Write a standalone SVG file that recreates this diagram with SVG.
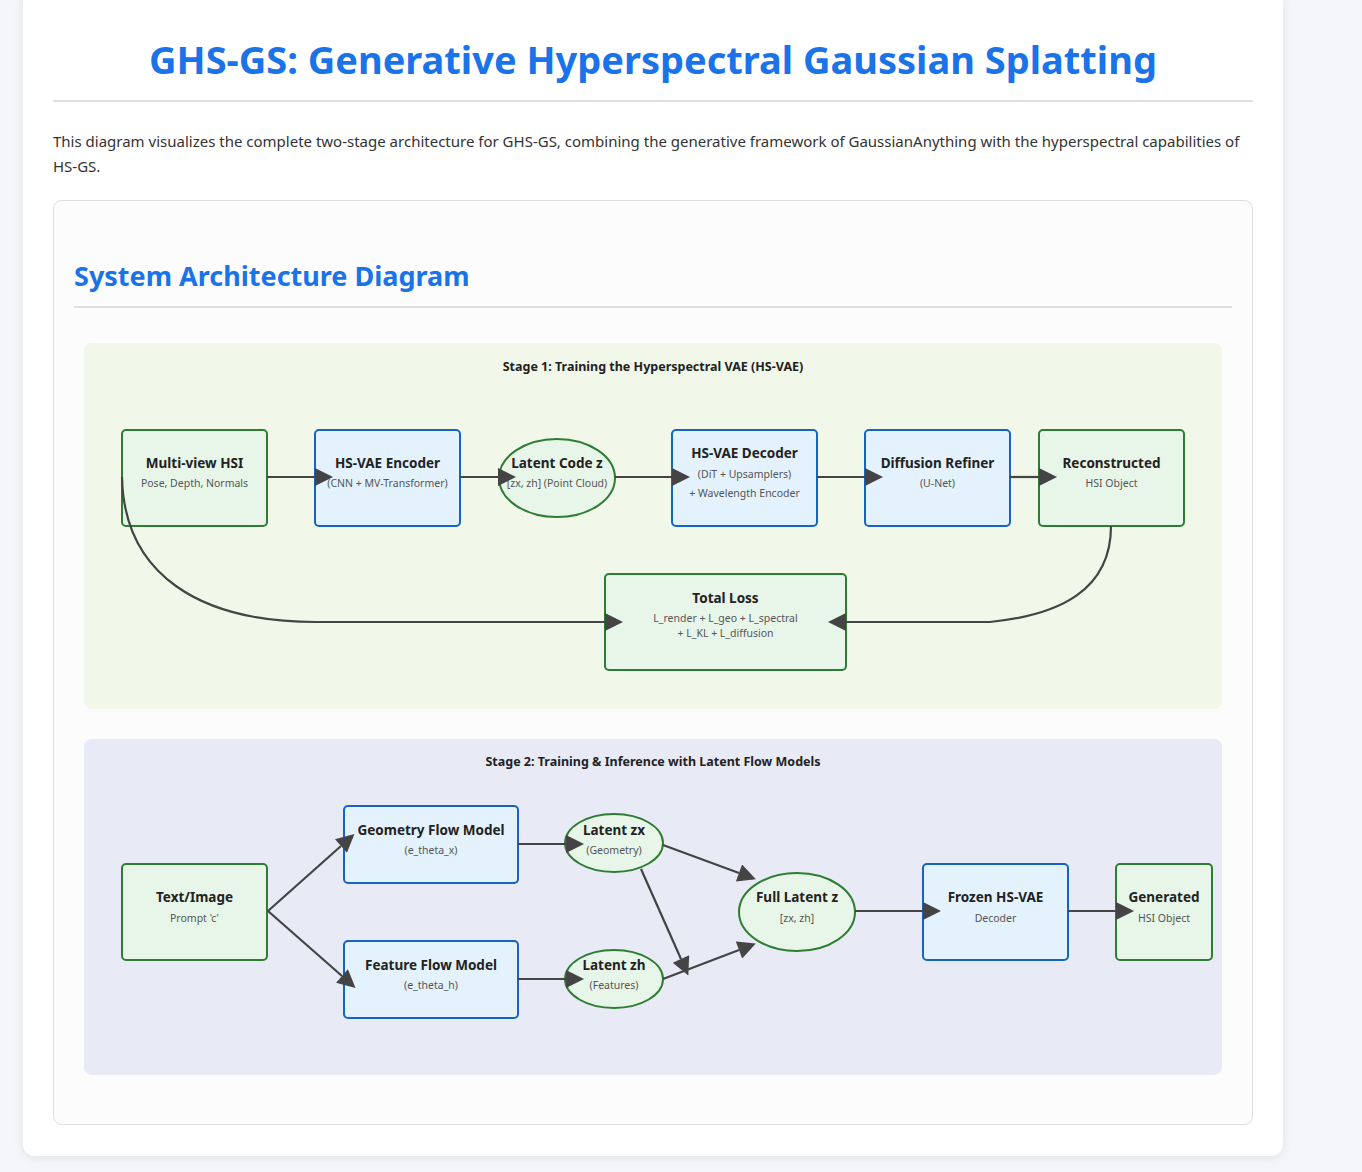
<svg xmlns="http://www.w3.org/2000/svg" width="1362" height="1172" viewBox="0 0 1362 1172">
<defs>
<filter id="sh" x="-5%" y="-5%" width="110%" height="110%"><feDropShadow dx="0" dy="2" stdDeviation="5" flood-color="#000" flood-opacity="0.08"/></filter>
<marker id="arr" viewBox="0 0 10 10" refX="0" refY="5" markerUnits="userSpaceOnUse" markerWidth="25" markerHeight="18" orient="auto"><path d="M0,0 L10,5 L0,10 z" fill="#444"/></marker>
<style>
.t{font-family:"Noto Sans","Open Sans",sans-serif;}
.h1{font-size:38px;font-weight:700;fill:#1a73e8;}
.h2{font-size:27px;font-weight:700;fill:#1a73e8;}
.p{font-size:15px;fill:#333;}
.st{font-size:12.5px;font-weight:700;fill:#222;}
.nt{font-size:13.5px;font-weight:700;fill:#222;}
.ns{font-size:10.5px;fill:#555;}
.g{fill:#e8f5e9;stroke:#2e7d32;stroke-width:2;}
.b{fill:#e3f2fd;stroke:#1565c0;stroke-width:2;}
.ea{fill:none;stroke:#444;stroke-width:2.2;marker-end:url(#arr);}
</style>
</defs>
<rect x="0" y="0" width="1362" height="1172" fill="#f4f6f9"/>
<rect x="23" y="-12" width="1260" height="1168" rx="12" fill="#fff" filter="url(#sh)"/>
<text class="t h1" x="653" y="74" text-anchor="middle">GHS-GS: Generative Hyperspectral Gaussian Splatting</text>
<rect x="53" y="100" width="1200" height="2" fill="#e0e0e0"/>
<text class="t p" x="53" y="147">This diagram visualizes the complete two-stage architecture for GHS-GS, combining the generative framework of GaussianAnything with the hyperspectral capabilities of</text>
<text class="t p" x="53" y="172">HS-GS.</text>
<rect x="53.5" y="200.5" width="1199" height="924" rx="8" fill="#fcfcfc" stroke="#ddd"/>
<text class="t h2" x="74" y="286">System Architecture Diagram</text>
<rect x="74" y="306" width="1158" height="2" fill="#e0e0e0"/>

<rect x="84" y="343" width="1138" height="366" rx="8" fill="#f1f8e9"/>
<text class="t st" x="653" y="371" text-anchor="middle">Stage 1: Training the Hyperspectral VAE (HS-VAE)</text>
<rect x="84" y="739" width="1138" height="336" rx="8" fill="#e8eaf6"/>
<text class="t st" x="653" y="766" text-anchor="middle">Stage 2: Training &amp; Inference with Latent Flow Models</text>

<g id="n-multiview"><rect class="g" x="122" y="430" width="145" height="96" rx="4"/><text class="t nt" x="194.5" y="468" text-anchor="middle">Multi-view HSI</text><text class="t ns" x="194.5" y="487" text-anchor="middle">Pose, Depth, Normals</text></g>
<g id="n-encoder"><rect class="b" x="315" y="430" width="145" height="96" rx="4"/><text class="t nt" x="387.5" y="468" text-anchor="middle">HS-VAE Encoder</text><text class="t ns" x="387.5" y="487" text-anchor="middle">(CNN + MV-Transformer)</text></g>
<g id="n-latent"><ellipse class="g" cx="557" cy="478" rx="58" ry="39"/><text class="t nt" x="557" y="468" text-anchor="middle">Latent Code z</text><text class="t ns" x="557" y="487" text-anchor="middle">[zx, zh] (Point Cloud)</text></g>
<g id="n-decoder"><rect class="b" x="672" y="430" width="145" height="96" rx="4"/><text class="t nt" x="744.5" y="458" text-anchor="middle">HS-VAE Decoder</text><text class="t ns" x="744.5" y="478" text-anchor="middle">(DiT + Upsamplers)</text><text class="t ns" x="744.5" y="497" text-anchor="middle">+ Wavelength Encoder</text></g>
<g id="n-refiner"><rect class="b" x="865" y="430" width="145" height="96" rx="4"/><text class="t nt" x="937.5" y="468" text-anchor="middle">Diffusion Refiner</text><text class="t ns" x="937.5" y="487" text-anchor="middle">(U-Net)</text></g>
<g id="n-recon"><rect class="g" x="1039" y="430" width="145" height="96" rx="4"/><text class="t nt" x="1111.5" y="468" text-anchor="middle">Reconstructed</text><text class="t ns" x="1111.5" y="487" text-anchor="middle">HSI Object</text></g>
<g id="n-loss"><rect class="g" x="605" y="574" width="241" height="96" rx="4"/><text class="t nt" x="725.5" y="603" text-anchor="middle">Total Loss</text><text class="t ns" x="725.5" y="622" text-anchor="middle">L_render + L_geo + L_spectral</text><text class="t ns" x="725.5" y="637" text-anchor="middle">+ L_KL + L_diffusion</text></g>

<g id="n-text"><rect class="g" x="122" y="864" width="145" height="96" rx="4"/><text class="t nt" x="194.5" y="902" text-anchor="middle">Text/Image</text><text class="t ns" x="194.5" y="922" text-anchor="middle">Prompt 'c'</text></g>
<g id="n-geoflow"><rect class="b" x="344" y="806" width="174" height="77" rx="4"/><text class="t nt" x="431" y="835" text-anchor="middle">Geometry Flow Model</text><text class="t ns" x="431" y="854" text-anchor="middle">(e_theta_x)</text></g>
<g id="n-featflow"><rect class="b" x="344" y="941" width="174" height="77" rx="4"/><text class="t nt" x="431" y="970" text-anchor="middle">Feature Flow Model</text><text class="t ns" x="431" y="989" text-anchor="middle">(e_theta_h)</text></g>
<g id="n-zx"><ellipse class="g" cx="614" cy="843" rx="49" ry="29"/><text class="t nt" x="614" y="835" text-anchor="middle">Latent zx</text><text class="t ns" x="614" y="854" text-anchor="middle">(Geometry)</text></g>
<g id="n-zh"><ellipse class="g" cx="614" cy="979" rx="49" ry="29"/><text class="t nt" x="614" y="970" text-anchor="middle">Latent zh</text><text class="t ns" x="614" y="989" text-anchor="middle">(Features)</text></g>
<g id="n-full"><ellipse class="g" cx="797" cy="912" rx="58" ry="39"/><text class="t nt" x="797" y="902" text-anchor="middle">Full Latent z</text><text class="t ns" x="797" y="922" text-anchor="middle">[zx, zh]</text></g>
<g id="n-frozen"><rect class="b" x="923" y="864" width="145" height="96" rx="4"/><text class="t nt" x="995.5" y="902" text-anchor="middle">Frozen HS-VAE</text><text class="t ns" x="995.5" y="922" text-anchor="middle">Decoder</text></g>
<g id="n-generated"><rect class="g" x="1116" y="864" width="96" height="96" rx="4"/><text class="t nt" x="1164" y="902" text-anchor="middle">Generated</text><text class="t ns" x="1164" y="922" text-anchor="middle">HSI Object</text></g>

<g id="connectors">
<path class="ea" d="M267,477 L315,477"/>
<path class="ea" d="M460,477 L498,477"/>
<path class="ea" d="M615,477 L672,477"/>
<path class="ea" d="M817,477 L865,477"/>
<path class="ea" d="M1010,477 L1039,477"/>
<path class="ea" d="M122,477 C124,575 200,622 316,622 L605,622"/>
<path class="ea" d="M1111,526 C1111,590 1060,615 990,622 L846,622"/>
<path class="ea" d="M268,911 L341,846"/>
<path class="ea" d="M268,911 L342,976"/>
<path class="ea" d="M518,844 L566,844"/>
<path class="ea" d="M518,979 L566,979"/>
<path class="ea" d="M663,845 L739,873"/>
<path class="ea" d="M641,869 L681,959"/>
<path class="ea" d="M663,979 L739,950"/>
<path class="ea" d="M855,911 L923,911"/>
<path class="ea" d="M1068,911 L1116,911"/>
</g>
</svg>
